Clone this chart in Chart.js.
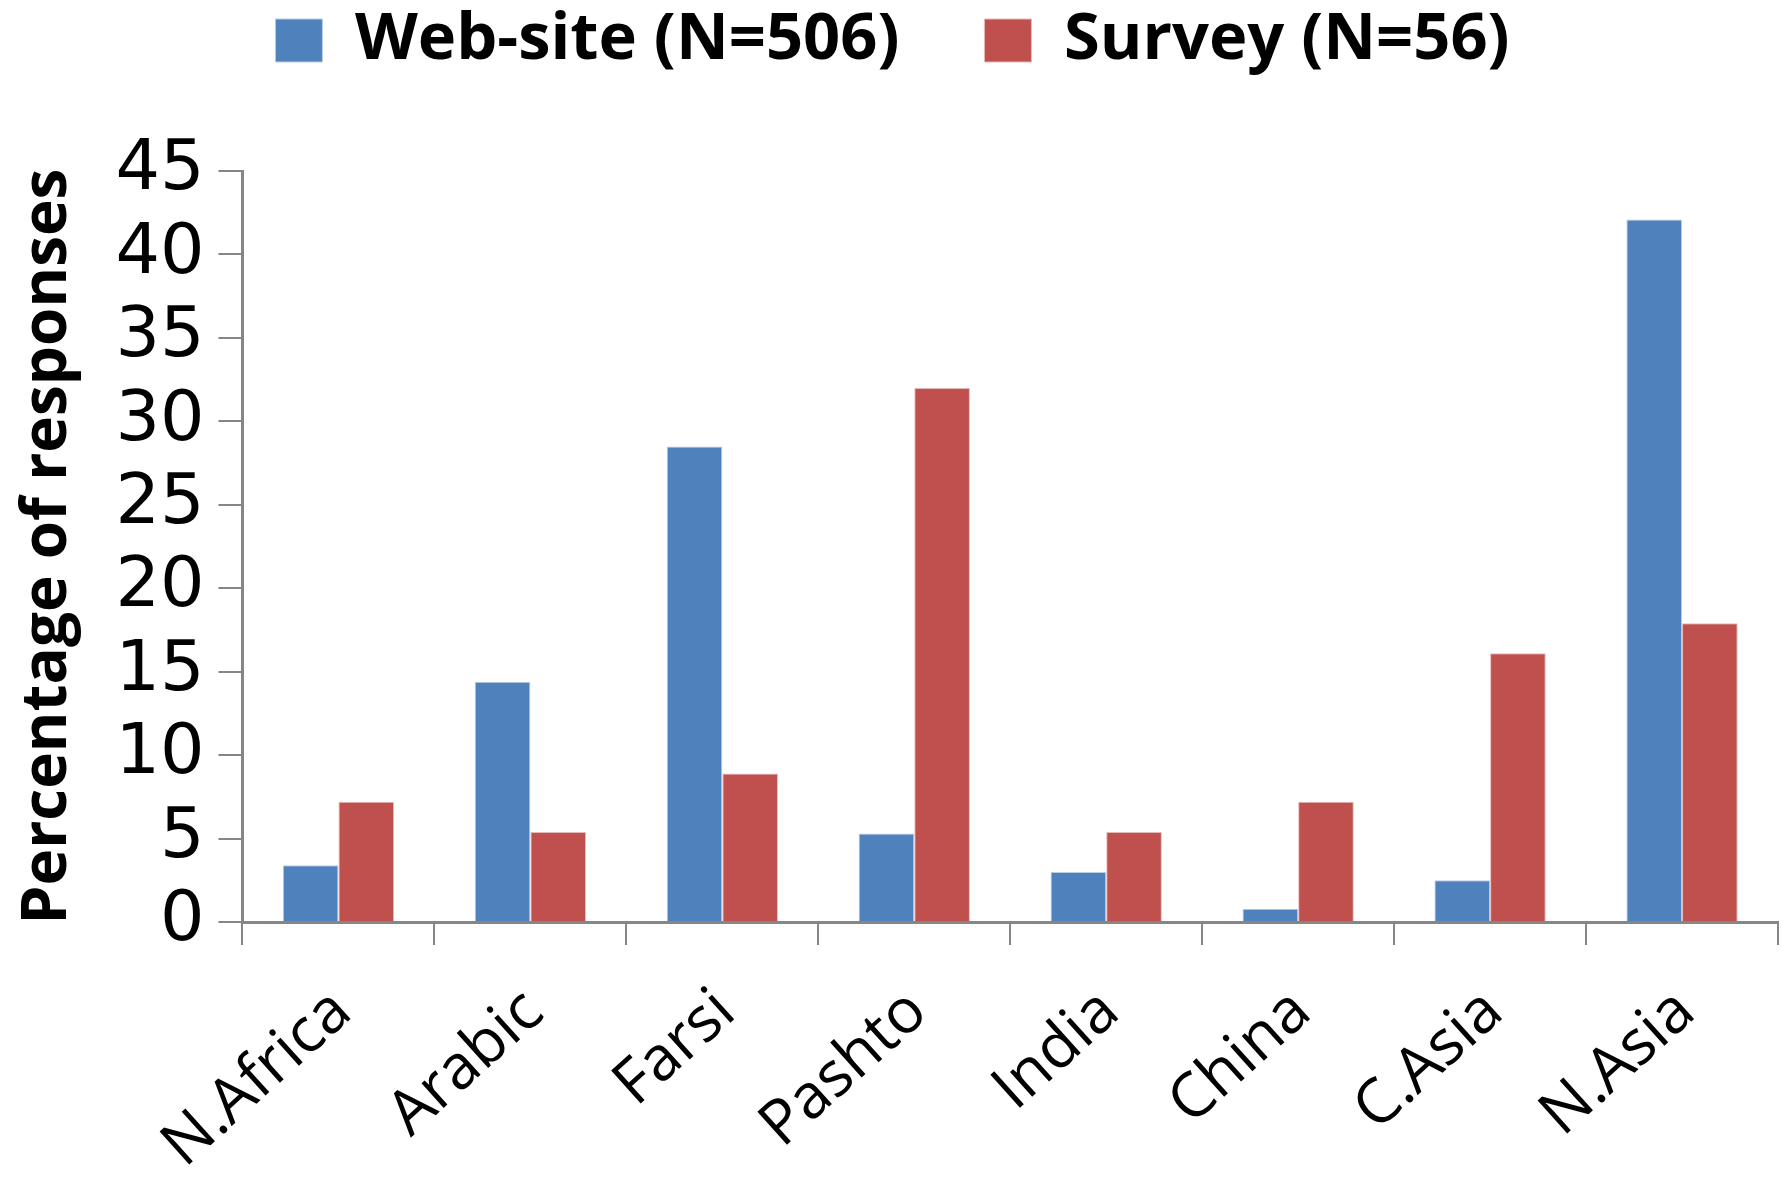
<!DOCTYPE html>
<html lang="en">
<head>
    <meta charset="UTF-8">
    <title>Percentage of responses by region</title>
    <script src="https://cdn.jsdelivr.net/npm/chart.js"></script>
    <style>
        html, body { margin: 0; padding: 0; background: #fff; }
        #wrap { width: 1787px; height: 1187px; }
    </style>
</head>
<body>
    <div id="wrap"><canvas id="chart"></canvas></div>

    <script>
        const regions = ['N.Africa', 'Arabic', 'Farsi', 'Pashto', 'India', 'China', 'C.Asia', 'N.Asia'];
        const websiteValues = [3.4, 14.4, 28.5, 5.3, 3.0, 0.8, 2.5, 42.1];
        const surveyValues = [7.2, 5.4, 8.9, 32.0, 5.4, 7.2, 16.1, 17.9];
        const seriesNames = ['Web-site (N=506)', 'Survey (N=56)'];
        const yTicks = [0, 5, 10, 15, 20, 25, 30, 35, 40, 45];

        const axisGrey = '#868686';
        const legendGap = 85;      // space between legend items (also its top padding)
        const legendBoxHeight = 248; // legend box height, leaves room above the plot

        // stretch the legend box so the plot starts lower, like the original
        const legendSpacing = {
            id: 'legendSpacing',
            beforeLayout(chart) {
                const legend = chart.legend;
                if (!legend || legend._stretched) return;
                const fit = legend.fit;
                legend.fit = function () {
                    fit.call(this);
                    this.height = legendBoxHeight;
                };
                legend._stretched = true;
            }
        };

        new Chart(document.getElementById('chart'), {
            type: 'bar',
            data: {
                labels: regions,
                datasets: [
                    { label: seriesNames[0], data: websiteValues, backgroundColor: '#4F81BD', borderColor: '#B9CDE5', borderWidth: 1 },
                    { label: seriesNames[1], data: surveyValues, backgroundColor: '#C0504D', borderColor: '#E6B9B8', borderWidth: 1 }
                ]
            },
            plugins: [legendSpacing],
            options: {
                responsive: true,
                maintainAspectRatio: false,
                animation: false,
                layout: { padding: { left: 7, right: 9, top: 8 - legendGap, bottom: -26 } },
                datasets: { bar: { categoryPercentage: 0.58, barPercentage: 1.0 } },
                plugins: {
                    tooltip: { enabled: false },
                    legend: {
                        position: 'top',
                        labels: {
                            boxWidth: 47,
                            boxHeight: 43,
                            padding: legendGap,
                            color: '#000',
                            font: { family: 'Open Sans', size: 65, weight: 'bold' }
                        }
                    }
                },
                scales: {
                    x: {
                        border: { color: axisGrey, width: 3 },
                        grid: { offset: true, drawOnChartArea: false, color: axisGrey, lineWidth: 2, tickLength: 23 },
                        ticks: {
                            color: '#000',
                            autoSkip: false,
                            minRotation: 42,
                            maxRotation: 42,
                            padding: 30,
                            labelOffset: 4,
                            font: { family: 'Open Sans', size: 62 }
                        }
                    },
                    y: {
                        min: 0,
                        max: 45,
                        afterBuildTicks: axis => { axis.ticks = yTicks.map(v => ({ value: v })); },
                        border: { color: axisGrey, width: 3 },
                        grid: { drawOnChartArea: false, color: axisGrey, lineWidth: 2, tickLength: 24 },
                        ticks: {
                            color: '#000',
                            autoSkip: false,
                            padding: 14,
                            font: { family: 'DejaVu Sans', size: 70 }
                        },
                        title: {
                            display: true,
                            text: 'Percentage of responses',
                            color: '#000',
                            padding: { top: 4, bottom: 16 },
                            font: { family: 'Open Sans', size: 62, weight: 'bold' }
                        }
                    }
                }
            }
        });
    </script>
</body>
</html>
